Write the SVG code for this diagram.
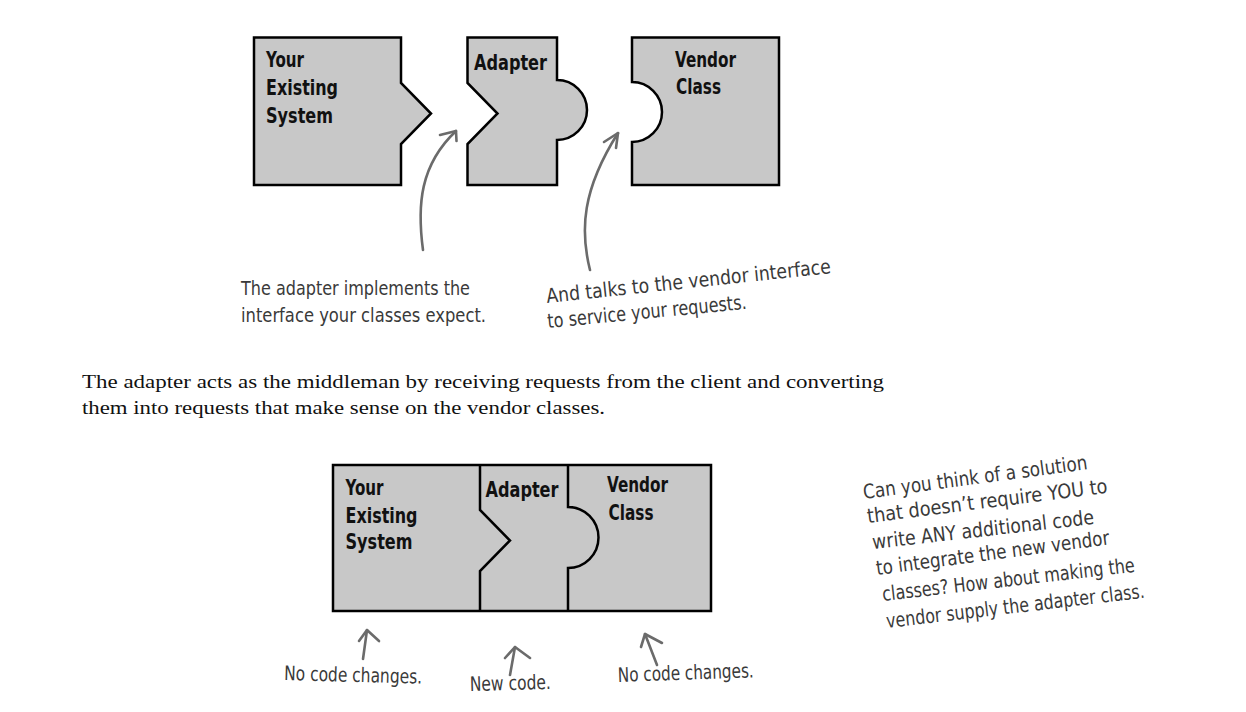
<svg xmlns="http://www.w3.org/2000/svg" width="1246" height="712" viewBox="0 0 1246 712">
<style>
.blk{fill:#c8c8c8;stroke:#000;stroke-width:2.5;stroke-linejoin:miter}
.div{fill:none;stroke:#000;stroke-width:2.5}
.lbl{font-family:"Liberation Sans Narrow","DejaVu Sans Condensed",sans-serif;font-weight:bold;font-size:22px;fill:#111}
.note{font-family:"Liberation Sans Narrow","DejaVu Sans Condensed",sans-serif;font-size:20px;fill:#3a3a3a}
.para{font-family:"Liberation Serif",serif;font-size:19px;fill:#111}
.arr{fill:none;stroke:#6b6b6b;stroke-width:2.6;stroke-linecap:round;stroke-linejoin:round}
</style>
<rect width="1246" height="712" fill="#fff"/>
<g id="existing-system">
<path class="blk" d="M254,37.5 H401 V83 L431,113.5 L401,144 V185 H254 Z"/>
<text class="lbl" x="266" y="67" textLength="38" lengthAdjust="spacingAndGlyphs">Your</text>
<text class="lbl" x="266" y="95" textLength="72" lengthAdjust="spacingAndGlyphs">Existing</text>
<text class="lbl" x="266" y="122.5" textLength="67" lengthAdjust="spacingAndGlyphs">System</text>
</g>
<g id="adapter">
<path class="blk" d="M467.5,37.5 H557 V80 A30,30 0 0 1 557,140 V185 H467.5 V144 L497.5,113.5 L467.5,83 Z"/>
<text class="lbl" x="474" y="69.5" textLength="73" lengthAdjust="spacingAndGlyphs">Adapter</text>
</g>
<g id="vendor-class">
<path class="blk" d="M632,37.5 H779 V185 H632 V142 A30,30 0 0 0 632,82 Z"/>
<text class="lbl" x="675" y="66.5" textLength="61" lengthAdjust="spacingAndGlyphs">Vendor</text>
<text class="lbl" x="676" y="93.5" textLength="45" lengthAdjust="spacingAndGlyphs">Class</text>
</g>
<g id="connectors">
<path class="arr" d="M423,250 C417,205 420,165 456,131"/>
<path class="arr" d="M440,135 L456,131 L456.5,141"/>
<path class="arr" d="M590,270 C580,230 582,190 618,133"/>
<path class="arr" d="M604,142 L618,133 L616,148"/>
<path class="arr" d="M363,659 L367,630"/>
<path class="arr" d="M359,641 L367,630 L379,641"/>
<path class="arr" d="M510,675 L515,647"/>
<path class="arr" d="M505,658 L515,647 L530,658"/>
<path class="arr" d="M657,665 L645,634"/>
<path class="arr" d="M641,647 L645,634 L662,643"/>
</g>
<g id="note-implements">
<text class="note" x="241" y="295" textLength="229" lengthAdjust="spacingAndGlyphs">The adapter implements the</text>
<text class="note" x="241" y="321.5" textLength="245" lengthAdjust="spacingAndGlyphs">interface your classes expect.</text>
</g>
<g id="note-talks">
<text class="note" transform="translate(547,303) rotate(-6)" textLength="286" lengthAdjust="spacingAndGlyphs">And talks to the vendor interface</text>
<text class="note" transform="translate(548,328) rotate(-5.5)" textLength="200" lengthAdjust="spacingAndGlyphs">to service your requests.</text>
</g>
<g id="paragraph">
<text class="para" x="82" y="388" textLength="802" lengthAdjust="spacingAndGlyphs">The adapter acts as the middleman by receiving requests from the client and converting</text>
<text class="para" x="82" y="414" textLength="523" lengthAdjust="spacingAndGlyphs">them into requests that make sense on the vendor classes.</text>
</g>
<g id="combined">
<rect class="blk" x="333" y="465" width="378" height="146"/>
<path class="div" d="M480,465 V510 L510,540.5 L480,571 V611"/>
<path class="div" d="M568,465 V507 A30.5,30.5 0 0 1 568,568 V611"/>
<text class="lbl" x="345.5" y="495" textLength="38" lengthAdjust="spacingAndGlyphs">Your</text>
<text class="lbl" x="345.5" y="522.5" textLength="72" lengthAdjust="spacingAndGlyphs">Existing</text>
<text class="lbl" x="345.5" y="549" textLength="67" lengthAdjust="spacingAndGlyphs">System</text>
<text class="lbl" x="485.5" y="497" textLength="73" lengthAdjust="spacingAndGlyphs">Adapter</text>
<text class="lbl" x="607" y="492" textLength="61" lengthAdjust="spacingAndGlyphs">Vendor</text>
<text class="lbl" x="608.5" y="519.5" textLength="45" lengthAdjust="spacingAndGlyphs">Class</text>
</g>
<g id="labels-bottom">
<text class="note" transform="translate(284,680) rotate(1.5)" textLength="138" lengthAdjust="spacingAndGlyphs">No code changes.</text>
<text class="note" transform="translate(470,691) rotate(-1.5)" textLength="81" lengthAdjust="spacingAndGlyphs">New code.</text>
<text class="note" transform="translate(618,682) rotate(-2)" textLength="136" lengthAdjust="spacingAndGlyphs">No code changes.</text>
</g>
<g id="note-solution">
<text class="note" transform="translate(864,499) rotate(-7.6)" textLength="226" lengthAdjust="spacingAndGlyphs">Can you think of a solution</text>
<text class="note" transform="translate(868,523) rotate(-7.2)" textLength="242" lengthAdjust="spacingAndGlyphs">that doesn’t require YOU to</text>
<text class="note" transform="translate(873,549) rotate(-6.5)" textLength="223" lengthAdjust="spacingAndGlyphs">write ANY additional code</text>
<text class="note" transform="translate(877,575) rotate(-7.5)" textLength="235" lengthAdjust="spacingAndGlyphs">to integrate the new vendor</text>
<text class="note" transform="translate(883,601) rotate(-6.6)" textLength="254" lengthAdjust="spacingAndGlyphs">classes?  How about making the</text>
<text class="note" transform="translate(887,628) rotate(-6.7)" textLength="260" lengthAdjust="spacingAndGlyphs">vendor supply the adapter class.</text>
</g>
</svg>
